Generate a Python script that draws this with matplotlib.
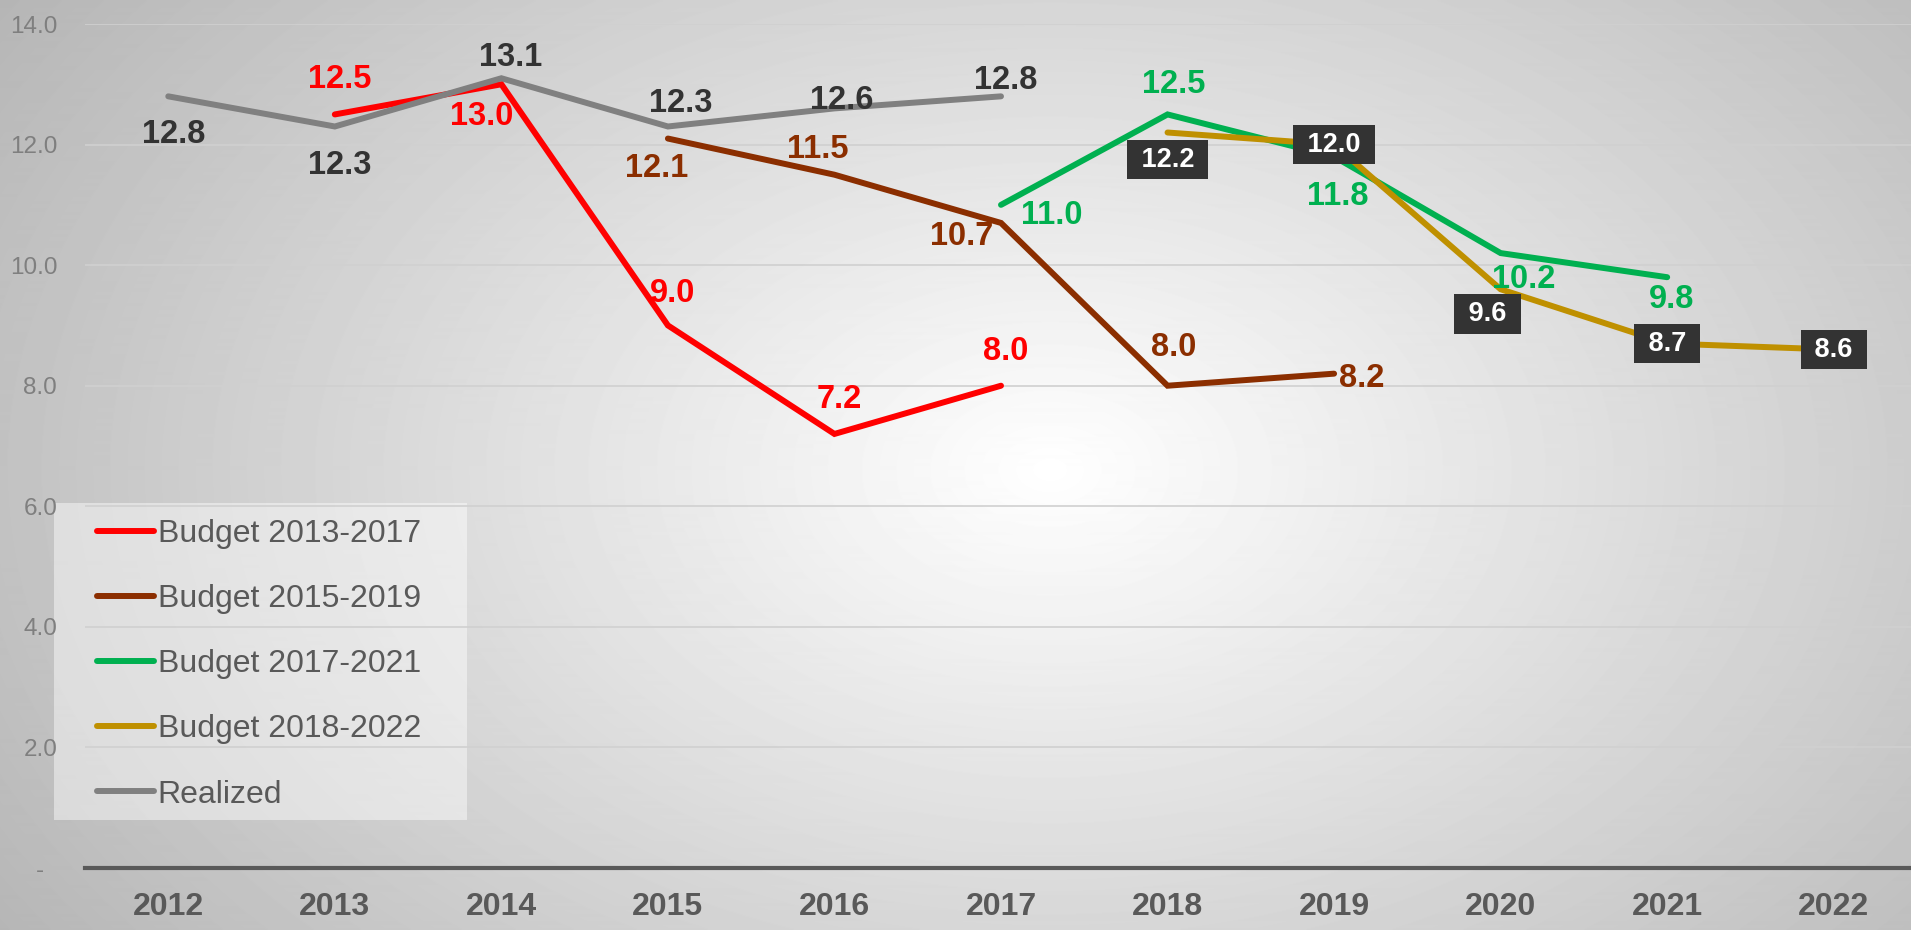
import numpy as np
import matplotlib
matplotlib.use('Agg')
import matplotlib.pyplot as plt
from matplotlib.patches import Rectangle

plt.rcParams['font.family'] = ['Liberation Sans', 'DejaVu Sans']

# --- data -------------------------------------------------------------
years = ['2012', '2013', '2014', '2015', '2016', '2017',
         '2018', '2019', '2020', '2021', '2022']

budget_1317_years = [2013, 2014, 2015, 2016, 2017]
budget_1317 = [12.5, 13.0, 9.0, 7.2, 8.0]

budget_1519_years = [2015, 2016, 2017, 2018, 2019]
budget_1519 = [12.1, 11.5, 10.7, 8.0, 8.2]

budget_1721_years = [2017, 2018, 2019, 2020, 2021]
budget_1721 = [11.0, 12.5, 11.8, 10.2, 9.8]

budget_1822_years = [2018, 2019, 2020, 2021, 2022]
budget_1822 = [12.2, 12.0, 9.6, 8.7, 8.6]

realized_years = [2012, 2013, 2014, 2015, 2016, 2017]
realized = [12.8, 12.3, 13.1, 12.3, 12.6, 12.8]

y_ticks = [0, 2, 4, 6, 8, 10, 12, 14]

# label offsets in pixels (dx, dy) and styles
series = [
    dict(name='Budget 2013-2017', yrs=budget_1317_years, vals=budget_1317, color='#FF0000',
         txt='#FF0000', box=False,
         offs=[(5, 35), (-20, -32), (5, 32), (5, 34), (5, 34)]),
    dict(name='Budget 2015-2019', yrs=budget_1519_years, vals=budget_1519, color='#8B2E00',
         txt='#8B2E00', box=False,
         offs=[(-11, -30), (-17, 25), (-39, -14), (6, 38), (28, -5)]),
    dict(name='Budget 2017-2021', yrs=budget_1721_years, vals=budget_1721, color='#00B050',
         txt='#00B050', box=False,
         offs=[(51, -11), (6, 30), (4, -40), (23, -26), (4, -22)]),
    dict(name='Budget 2018-2022', yrs=budget_1822_years, vals=budget_1822, color='#BF9000',
         txt='white', box=True,
         offs=[(0, -27), (0, 0), (-13, -25), (0, 0), (0, 0)]),
    dict(name='Realized', yrs=realized_years, vals=realized, color='#808080',
         txt='#333333', box=False,
         offs=[(5, -38), (5, -39), (9, 21), (13, 23), (7, 8), (5, 16)]),
]

W, H = 1911, 930
fig = plt.figure(figsize=(W / 100, H / 100), dpi=100)

# radial grey background
bg = fig.add_axes([0, 0, 1, 1], zorder=-10)
gx, gy = np.meshgrid(np.arange(W), np.arange(H))
r = np.sqrt(((gx - 1050) / 1050.0) ** 2 + ((gy - 470) / 700.0) ** 2)
shade = 1.0 - 0.24 * np.clip(r, 0, 1.3)
shade = np.clip(shade, 0.70, 1.0)
bg.imshow(shade, cmap='gray', vmin=0, vmax=1, extent=[0, W, H, 0], aspect='auto')
bg.set_xlim(0, W)
bg.set_ylim(H, 0)
bg.axis('off')

# legend panel
fig.patches.append(Rectangle((54 / W, (H - 820) / H), 413 / W, 317 / H,
                             transform=fig.transFigure, facecolor='white',
                             alpha=0.45, edgecolor='none', zorder=-5))

ax = fig.add_axes([85 / W, 62 / H, 1832 / W, 844 / H])
ax.patch.set_alpha(0)

for s in series:
    xs = [y - 2012 for y in s['yrs']]
    ax.plot(xs, s['vals'], color=s['color'], lw=4.3, solid_capstyle='round',
            solid_joinstyle='miter', label=s['name'], zorder=3)

for s in series:
    xs = [y - 2012 for y in s['yrs']]
    for x, v, (dx, dy) in zip(xs, s['vals'], s['offs']):
        if s['box']:
            ax.annotate(' %.1f ' % v, (x, v), xytext=(dx, dy), textcoords='offset pixels',
                        ha='center', va='center', fontsize=19.5, fontweight='bold',
                        color='white', zorder=5,
                        bbox=dict(boxstyle='square,pad=0.25', fc='#333333', ec='none'))
        else:
            ax.annotate('%.1f' % v, (x, v), xytext=(dx, dy), textcoords='offset pixels',
                        ha='center', va='center', fontsize=23.5, fontweight='bold',
                        color=s['txt'], zorder=5)

ax.set_xlim(-0.5, 10.5)
ax.set_ylim(0, 14)
ax.set_xticks(range(len(years)))
ax.set_xticklabels(years, fontsize=23, fontweight='bold', color='#595959')
ax.set_yticks(y_ticks)
ax.set_yticklabels(['-  '] + ['%.1f' % t for t in y_ticks[1:]], fontsize=17.5, color='#7F7F7F')
ax.tick_params(axis='both', length=0)
ax.tick_params(axis='x', pad=17)
ax.tick_params(axis='y', pad=20)
ax.yaxis.grid(True, color='#D0D0D0', lw=1.2, zorder=0)
ax.set_axisbelow(True)
for sp in ['top', 'right', 'left']:
    ax.spines[sp].set_visible(False)
ax.spines['bottom'].set_color('#595959')
ax.spines['bottom'].set_linewidth(3)

leg = ax.legend(loc='upper left', bbox_to_anchor=(97 / W, (H - 519) / H),
                bbox_transform=fig.transFigure, frameon=False, fontsize=23,
                borderpad=0, borderaxespad=0, handlelength=1.78, handletextpad=0.12,
                labelspacing=1.1)
for t in leg.get_texts():
    t.set_color('#595959')

fig.savefig('out.png', dpi=100)
